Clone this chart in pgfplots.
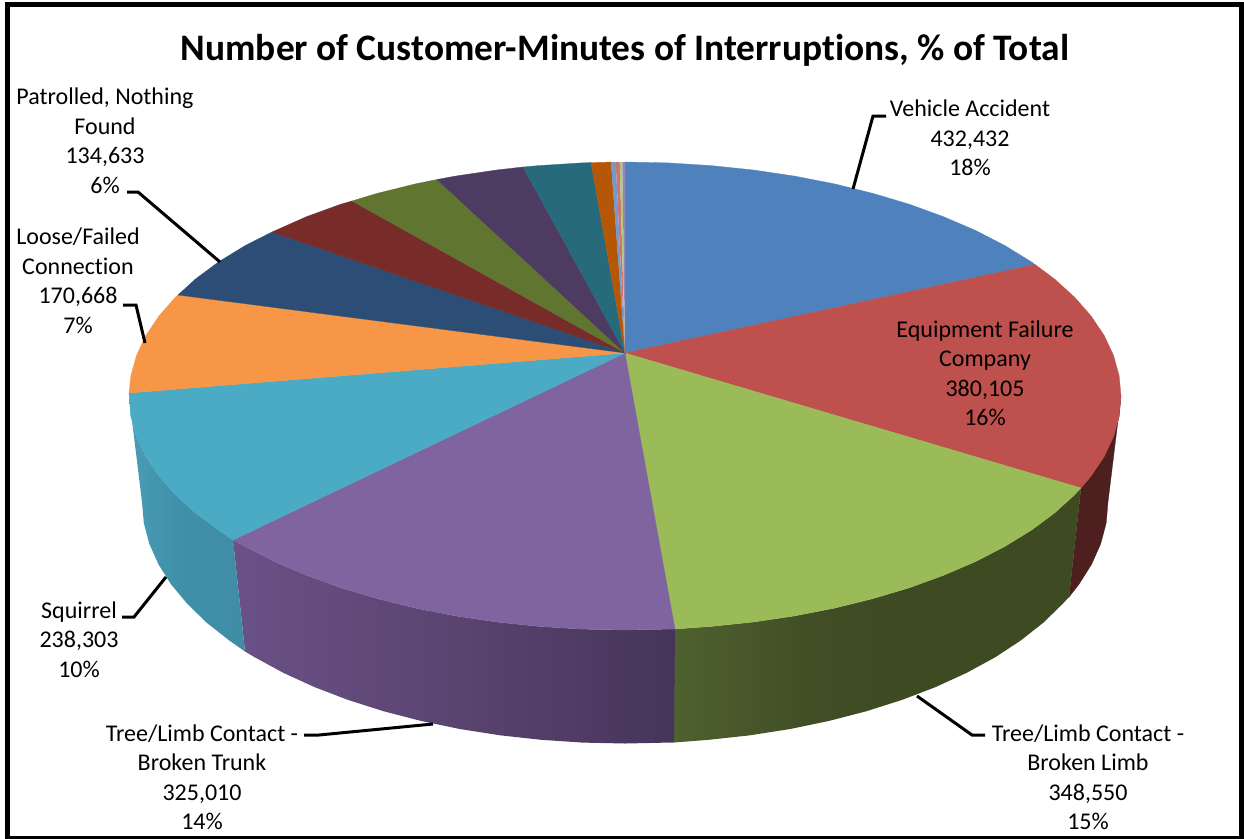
\documentclass[border=0pt]{standalone}
\usepackage{pgfplots}
\pgfplotsset{compat=1.18}
\usepackage{fontspec}
\setmainfont[RawFeature={-liga}]{Carlito}

% Top faces of the slices
\definecolor{cBlue}{HTML}{4F81BD}
\definecolor{cRed}{HTML}{BE504D}
\definecolor{cGreen}{HTML}{9BBB59}
\definecolor{cPurple}{HTML}{8064A0}
\definecolor{cTeal}{HTML}{4BAAC4}
\definecolor{cOrange}{HTML}{F79646}
\definecolor{cNavy}{HTML}{2C4D75}
\definecolor{cDkRed}{HTML}{772C2A}
\definecolor{cOlive}{HTML}{5F7530}
\definecolor{cDkPurple}{HTML}{4D3B62}
\definecolor{cDkTeal}{HTML}{276A7C}
\definecolor{cDkOrange}{HTML}{B65708}
\definecolor{cLtBlue}{HTML}{729ACA}
\definecolor{cPink}{HTML}{CD7371}
\definecolor{cLtGreen}{HTML}{AFC97A}
\definecolor{cLtPurple}{HTML}{9983B5}

% Side walls of the front slices
\definecolor{wR}{HTML}{4E1F1F}
\definecolor{wGa}{HTML}{4F612F}
\definecolor{wGb}{HTML}{414E25}
\definecolor{wGc}{HTML}{3E4A22}
\definecolor{wPa}{HTML}{6A5186}
\definecolor{wPb}{HTML}{5A4470}
\definecolor{wPc}{HTML}{46345A}
\definecolor{wTa}{HTML}{4A9DB6}
\definecolor{wTb}{HTML}{4090A9}
\definecolor{wTc}{HTML}{3F8CA5}
\pgfdeclarehorizontalshading{wallGreen}{100bp}{color(0bp)=(wGa); color(25bp)=(wGa); color(42bp)=(wGb); color(55bp)=(wGc); color(100bp)=(wGc)}
\pgfdeclarehorizontalshading{wallPurple}{100bp}{color(0bp)=(wPa); color(25bp)=(wPa); color(50bp)=(wPb); color(75bp)=(wPc); color(100bp)=(wPc)}
\pgfdeclarehorizontalshading{wallTeal}{100bp}{color(0bp)=(wTa); color(25bp)=(wTa); color(45bp)=(wTb); color(75bp)=(wTc); color(100bp)=(wTc)}

\tikzset{
  lbl/.style={align=center, font=\fontsize{24}{29.5}\selectfont, text=black, inner sep=0pt},
  leader/.style={black, line width=3pt, line join=miter},
  slice/.style={fill=#1, draw=#1, line width=0.3pt},
}

\begin{document}
\begin{tikzpicture}
\useasboundingbox (0,0) rectangle (1244pt,838pt);
\begin{axis}[
  scale only axis, width=1244pt, height=838pt,
  xmin=0, xmax=1244, ymin=0, ymax=838, y dir=reverse,
  hide axis, clip=true, no markers,
]
% side walls
\addplot[fill=wR, draw=wR, line width=0.3pt] coordinates {
 (1121,396)(1119.1,416.4)(1113.5,436.6)(1104.1,456.6)(1091.1,476)(1081,488)
 (1069,597)(1078.9,584.4)(1091.5,564.4)(1100.7,543.8)(1106.2,523)(1108,502)} -- cycle;
\addplot[shading=wallGreen, draw=none] coordinates {
 (1081,488)(1074.5,494.9)(1054.5,513)(1031.3,530.2)(1004.9,546.4)(975.7,561.5)(943.8,575.2)(909.5,587.7)(873,598.6)(834.6,608.1)(794.6,615.9)(753.4,622)(711.1,626.4)(675,629)
 (674,742.5)(708.8,739.8)(750,735.3)(790.2,729)(829.1,720.9)(866.5,711.2)(902,699.9)(935.5,687.1)(966.5,672.9)(995,657.4)(1020.7,640.5)(1043.3,622.7)(1062.7,603.8)(1069,597)} -- cycle;
\addplot[shading=wallPurple, draw=none] coordinates {
 (675,629)(668.3,629.1)(625,630)(581.7,629.1)(538.9,626.4)(496.6,622)(455.4,615.9)(415.4,608.1)(377,598.6)(340.5,587.7)(306.2,575.2)(274.3,561.5)(245.1,546.4)(233,540)
 (245,651.5)(255,657.4)(283.5,672.9)(314.5,687.1)(348,699.9)(383.5,711.2)(420.9,720.9)(459.8,729)(500,735.3)(541.2,739.8)(582.9,742.6)(625,743.5)(667.1,742.6)(674,742.5)} -- cycle;
\addplot[shading=wallTeal, draw=none] coordinates {
 (233,540)(218.7,530.2)(195.5,513)(175.5,494.9)(158.9,476)(145.9,456.6)(136.5,436.6)(130.9,416.4)(129,396)
 (142,502)(143.8,523)(149.3,543.8)(158.5,564.4)(171.1,584.4)(187.3,603.8)(206.7,622.7)(229.3,640.5)(245,651.5)} -- cycle;

% top faces, clockwise from twelve o'clock
\addplot[slice=cBlue] coordinates {(625,353)(625,162)(668.3,162.9)(711.1,165.6)(753.4,170)(794.6,176.1)(834.6,183.9)(873,193.4)(909.5,204.3)(943.8,216.8)(975.7,230.5)(1004.9,245.6)(1031.3,261.8)(1035,264.5)} -- cycle;
\addplot[slice=cRed] coordinates {(625,353)(1035,264.5)(1054.5,279)(1074.5,297.1)(1091.1,316)(1104.1,335.4)(1113.5,355.4)(1119.1,375.6)(1121,396)(1119.1,416.4)(1113.5,436.6)(1104.1,456.6)(1091.1,476)(1081,488)} -- cycle;
\addplot[slice=cGreen] coordinates {(625,353)(1081,488)(1074.5,494.9)(1054.5,513)(1031.3,530.2)(1004.9,546.4)(975.7,561.5)(943.8,575.2)(909.5,587.7)(873,598.6)(834.6,608.1)(794.6,615.9)(753.4,622)(711.1,626.4)(675,629)} -- cycle;
\addplot[slice=cPurple] coordinates {(625,353)(675,629)(668.3,629.1)(625,630)(581.7,629.1)(538.9,626.4)(496.6,622)(455.4,615.9)(415.4,608.1)(377,598.6)(340.5,587.7)(306.2,575.2)(274.3,561.5)(245.1,546.4)(233,540)} -- cycle;
\addplot[slice=cTeal] coordinates {(625,353)(233,540)(218.7,530.2)(195.5,513)(175.5,494.9)(158.9,476)(145.9,456.6)(136.5,436.6)(130.9,416.4)(129,393)} -- cycle;
\addplot[slice=cOrange] coordinates {(625,353)(129,393)(130.9,375.6)(136.5,355.4)(145.9,335.4)(158.9,316)(175.5,297.1)(178,295)} -- cycle;
\addplot[slice=cNavy] coordinates {(625,353)(178,295)(195.5,279)(218.7,261.8)(245.1,245.6)(272,232)} -- cycle;
\addplot[slice=cDkRed] coordinates {(625,353)(272,232)(306.2,216.8)(340.5,204.3)(352,201)} -- cycle;
\addplot[slice=cOlive] coordinates {(625,353)(352,201)(377,193.4)(415.4,183.9)(437,179.5)} -- cycle;
\addplot[slice=cDkPurple] coordinates {(625,353)(437,179.5)(455.4,176.1)(496.6,170)(523,167)} -- cycle;
\addplot[slice=cDkTeal] coordinates {(625,353)(523,167)(538.9,165.6)(581.7,162.9)(591,162.6)} -- cycle;
\addplot[slice=cDkOrange] coordinates {(625,353)(591,162.6)(611,162.1)} -- cycle;
\addplot[fill=cLtBlue, draw=none] coordinates {(625,353)(611,162.1)(615.7,162)} -- cycle;
\addplot[fill=cPink, draw=none] coordinates {(625,353)(615.7,162)(619.7,162)} -- cycle;
\addplot[fill=cLtGreen, draw=none] coordinates {(625,353)(619.7,162)(622.3,162)} -- cycle;
\addplot[fill=cLtPurple, draw=none] coordinates {(625,353)(622.3,162)(625,162)} -- cycle;

% leader lines
\addplot[leader] coordinates {(853,189)(873,116)(886,116)};
\addplot[leader] coordinates {(917,696)(972,735)(985,735)};
\addplot[leader] coordinates {(433,724)(319,735)(304,735)};
\addplot[leader] coordinates {(166,577)(134,617)(122,617)};
\addplot[leader] coordinates {(145,343)(136,305)(123,305)};
\addplot[leader] coordinates {(220,262)(138,192)(127,192)};

% chart frame
\addplot[black, line width=5pt, line join=miter] coordinates {(7.5,4)(1241.5,4)(1241.5,838)(7.5,838)} -- cycle;

% title and data labels
\node[font=\fontsize{37.4}{42}\selectfont\bfseries, inner sep=0pt] at (axis cs:625,50) {Number of Customer-Minutes of Interruptions, \% of Total};
\node[lbl] at (axis cs:970,138) {Vehicle Accident\\432,432\\18\%};
\node[lbl] at (axis cs:985,373.5) {Equipment Failure\\Company\\380,105\\16\%};
\node[lbl] at (axis cs:1088,777.5) {Tree/Limb Contact -\\Broken Limb\\348,550\\15\%};
\node[lbl] at (axis cs:202,777.5) {Tree/Limb Contact -\\Broken Trunk\\325,010\\14\%};
\node[lbl] at (axis cs:79,639.5) {Squirrel\\238,303\\10\%};
\node[lbl] at (axis cs:78,281) {Loose/Failed\\Connection\\170,668\\7\%};
\node[lbl] at (axis cs:105,141) {Patrolled, Nothing\\Found\\134,633\\6\%};
\end{axis}
\end{tikzpicture}
\end{document}
